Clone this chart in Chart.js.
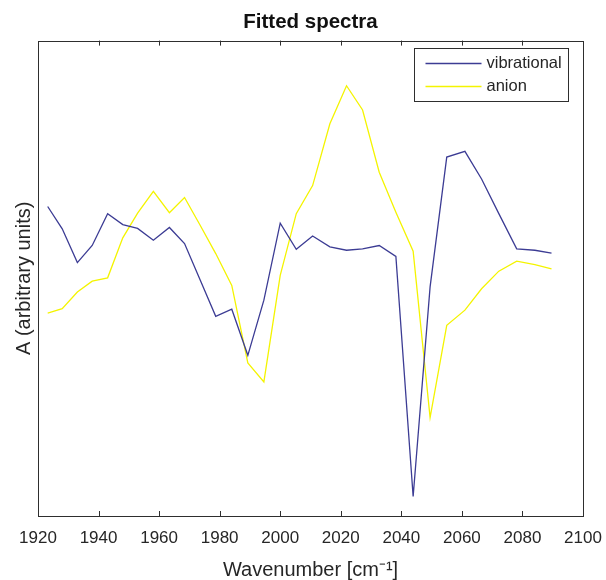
<!DOCTYPE html>
<html>
<head>
<meta charset="utf-8">
<script src="https://cdn.jsdelivr.net/npm/chart.js@4.4.1/dist/chart.umd.min.js"></script>
<style>
  html, body { margin: 0; padding: 0; background: #fff; }
  #wrap { width: 606px; height: 580px; }
</style>
</head>
<body>
<div id="wrap"><canvas id="spectraChart" width="606" height="580"></canvas></div>
<script>
// wavenumbers (cm-1) of the fitted points
const wavenumbers = [1923.2, 1928.0, 1933.0, 1937.9, 1943.0, 1948.0, 1952.9, 1958.1,
    1963.4, 1968.4, 1973.6, 1978.7, 1984.0, 1989.3, 1994.6, 2000.0,
    2005.3, 2010.7, 2016.4, 2021.9, 2027.2, 2032.7, 2038.2, 2043.9,
    2049.5, 2055.0, 2061.0, 2066.5, 2072.2, 2078.1, 2084.1, 2089.6];
// fitted components, arbitrary units
const vibrational = [65.1, 60.4, 53.3, 56.9, 63.6, 61.3, 60.5, 58.0,
    60.7, 57.3, 49.6, 42.0, 43.5, 33.8, 45.4, 61.6,
    56.1, 58.9, 56.6, 55.9, 56.2, 56.9, 54.6, 4.1,
    48.2, 75.5, 76.7, 70.9, 63.6, 56.2, 55.9, 55.3];
const anion = [42.7, 43.6, 47.1, 49.4, 50.1, 58.5, 63.7, 68.3,
    63.8, 67.0, 61.1, 55.2, 48.5, 32.2, 28.2, 50.6,
    63.6, 69.5, 82.5, 90.5, 85.4, 72.3, 63.9, 55.7,
    20.7, 40.1, 43.3, 47.8, 51.5, 53.6, 52.9, 52.0];
const xTicks = [1920, 1940, 1960, 1980, 2000, 2020, 2040, 2060, 2080, 2100];

const seriesNames = ['vibrational', 'anion'];
const seriesColors = ['#3c3c94', '#f4f400'];
const FONT = '"Liberation Sans", Arial, Helvetica, sans-serif';

function toPoints(ys) {
    return wavenumbers.map((x, i) => ({ x: x, y: ys[i] }));
}

// box around the axes with inward ticks top and bottom
const frameTicks = {
    id: 'frameTicks',
    afterDatasetsDraw(chart) {
        const { ctx, chartArea: a } = chart;
        const xs = chart.scales.x;
        ctx.save();
        ctx.strokeStyle = '#2e2e2e';
        ctx.lineWidth = 1;
        ctx.strokeRect(Math.round(a.left) + 0.5, Math.round(a.top) + 0.5,
            Math.round(a.right - a.left), Math.round(a.bottom - a.top));
        ctx.beginPath();
        xs.ticks.forEach(t => {
            const px = Math.round(xs.getPixelForValue(t.value)) + 0.5;
            if (px <= a.left + 1 || px >= a.right - 1) return;
            ctx.moveTo(px, a.bottom);
            ctx.lineTo(px, a.bottom - 5);
            ctx.moveTo(px, a.top);
            ctx.lineTo(px, a.top + 5);
        });
        ctx.stroke();
        ctx.restore();
    }
};

// boxed legend in the upper right corner
const boxLegend = {
    id: 'boxLegend',
    afterDraw(chart) {
        const { ctx, chartArea: a } = chart;
        const w = 154, h = 53;
        const x0 = Math.round(a.right - 15 - w) + 0.5;
        const y0 = Math.round(a.top + 7) + 0.5;
        ctx.save();
        ctx.fillStyle = '#fff';
        ctx.fillRect(x0, y0, w, h);
        ctx.strokeStyle = '#2e2e2e';
        ctx.lineWidth = 1;
        ctx.strokeRect(x0, y0, w, h);
        ctx.font = '16.5px ' + FONT;
        ctx.textBaseline = 'middle';
        chart.data.datasets.forEach((ds, i) => {
            const yy = y0 + 15 + i * 23;
            ctx.strokeStyle = ds.borderColor;
            ctx.lineWidth = 1.3;
            ctx.beginPath();
            ctx.moveTo(x0 + 11, yy);
            ctx.lineTo(x0 + 67, yy);
            ctx.stroke();
            ctx.fillStyle = '#262626';
            ctx.fillText(ds.label, x0 + 72, yy);
        });
        ctx.restore();
    }
};

const ctx = document.getElementById('spectraChart').getContext('2d');
const spectraChart = new Chart(ctx, {
    type: 'line',
    data: {
        datasets: [
            { label: seriesNames[0], data: toPoints(vibrational), borderColor: seriesColors[0] },
            { label: seriesNames[1], data: toPoints(anion), borderColor: seriesColors[1] }
        ]
    },
    options: {
        responsive: false,
        animation: false,
        layout: { padding: { left: 0, right: 23, top: 0, bottom: 0 } },
        elements: {
            line: { borderWidth: 1.3, tension: 0, fill: false },
            point: { radius: 0, hoverRadius: 0 }
        },
        plugins: {
            legend: { display: false },
            tooltip: { enabled: false },
            title: {
                display: true,
                text: 'Fitted spectra',
                fullSize: false,
                color: '#111',
                font: { family: FONT, size: 20.5, weight: 'bold', lineHeight: 1.2 },
                padding: { top: 10, bottom: 6 }
            }
        },
        scales: {
            x: {
                type: 'linear',
                min: 1920,
                max: 2100,
                afterBuildTicks: s => { s.ticks = xTicks.map(v => ({ value: v })); },
                afterFit: s => {
                    s.height = 64;
                    s.paddingLeft = 0;
                    s.paddingRight = 0;
                },
                grid: { display: false },
                border: { display: false },
                ticks: {
                    color: '#262626',
                    padding: 4,
                    maxRotation: 0,
                    autoSkip: false,
                    callback: v => String(v),
                    font: { family: FONT, size: 17 }
                },
                title: {
                    display: true,
                    text: 'Wavenumber [cm⁻¹]',
                    color: '#262626',
                    font: { family: FONT, size: 20, lineHeight: 1 },
                    padding: { top: 0, bottom: 0 }
                }
            },
            y: {
                min: 0,
                max: 100,
                afterFit: s => { s.width = 38; },
                grid: { display: false },
                border: { display: false },
                ticks: { display: false },
                title: {
                    display: true,
                    text: 'A (arbitrary units)',
                    color: '#262626',
                    font: { family: FONT, size: 20, lineHeight: 1.2 },
                    padding: { top: 12, bottom: 0 }
                }
            }
        }
    },
    plugins: [frameTicks, boxLegend]
});
</script>
</body>
</html>
